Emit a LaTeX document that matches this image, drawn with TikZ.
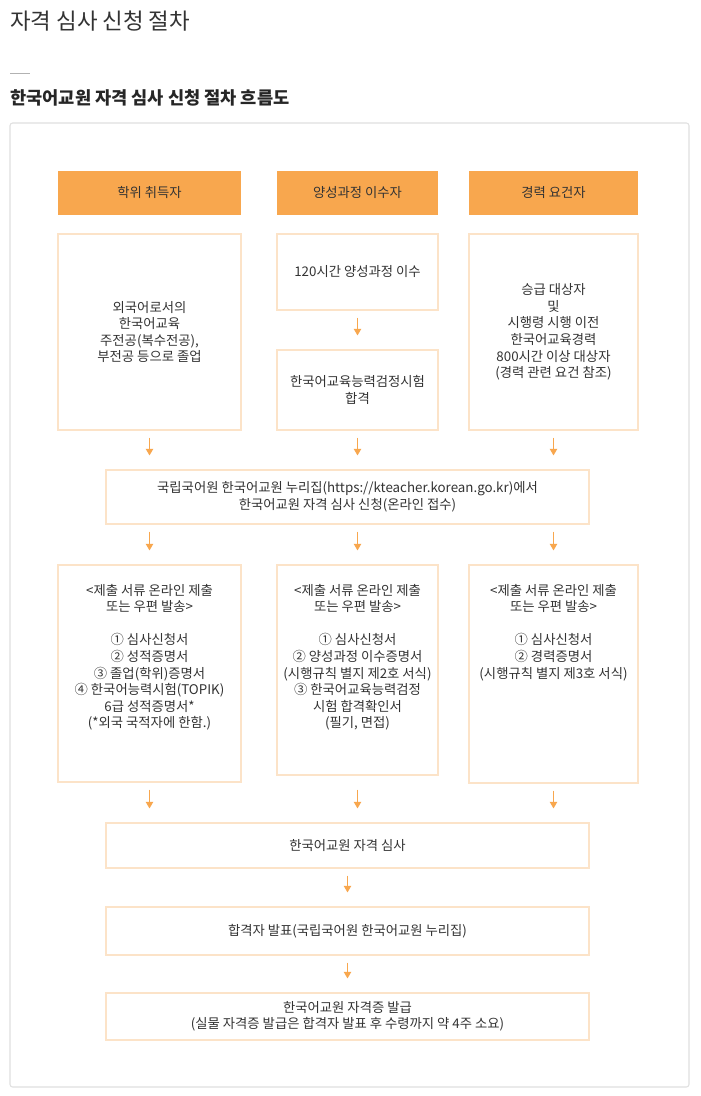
\documentclass[tikz,border=0pt]{standalone}
\usepackage{fontspec}
\setmainfont{Noto Sans CJK KR}
\usetikzlibrary{arrows.meta}
\definecolor{org}{HTML}{F8A74E}
\definecolor{lorg}{HTML}{FCE3C8}
\definecolor{txt}{HTML}{333333}
\tikzset{
  px/.style={x=0.75pt,y=-0.75pt},
  hdr/.style={fill=org,draw=none,minimum height=44*0.75pt,inner sep=0pt,font=\fontsize{10}{12}\selectfont,text=txt},
  bx/.style={draw=lorg,line width=0.8pt,inner sep=0pt,font=\fontsize{10}{12.4}\selectfont,text=txt,align=center},
  tx/.style={font=\fontsize{10}{12.4}\selectfont,text=txt,align=center,inner sep=0pt},
  arr/.style={draw=org,line width=1.1pt,-{Triangle[length=5pt,width=5.5pt]},shorten <=7*0.75pt,shorten >=14*0.75pt}
}
\begin{document}
\begin{tikzpicture}[px]
\useasboundingbox[fill=white] (0,0) rectangle (700,1096);
\node[anchor=west,inner sep=0pt,text=txt,font=\fontsize{16.8}{18}\selectfont] (t1) at (10,21) {자격 심사 신청 절차};
\draw[draw=gray!60,line width=0.6pt] (10,73) -- (30,73);
\node[anchor=west,inner sep=0pt,text=black!85,font=\fontsize{13.2}{15}\bfseries\selectfont] (t2) at (10,98) {한국어교원 자격 심사 신청 절차 흐름도};
\draw[draw=black!12,line width=0.8pt,rounded corners=2pt] (10,123) rectangle (689,1087);
% headers
\node[hdr,minimum width=183*0.75pt] (h1) at (149.5,193) {학위 취득자};
\node[hdr,minimum width=161*0.75pt] (h2) at (357.5,193) {양성과정 이수자};
\node[hdr,minimum width=169*0.75pt] (h3) at (553.5,193) {경력 요건자};
% row 1
\node[bx,minimum width=183*0.75pt,minimum height=196*0.75pt] (a1) at (149.5,332) {외국어로서의\\한국어교육\\주전공(복수전공),\\부전공 등으로 졸업};
\node[bx,minimum width=161*0.75pt,minimum height=76*0.75pt] (b1) at (357.5,272) {120시간 양성과정 이수};
\node[bx,minimum width=161*0.75pt,minimum height=80*0.75pt] (b2) at (357.5,390) {한국어교육능력검정시험\\합격};
\node[bx,minimum width=169*0.75pt,minimum height=196*0.75pt] (c1) at (553.5,332) {승급 대상자\\및\\시행령 시행 이전\\한국어교육경력\\800시간 이상 대상자\\(경력 관련 요건 참조)};
\draw[arr] (b1) -- (b2);
% wide apply box
\node[bx,minimum width=483*0.75pt,minimum height=54*0.75pt] (w) at (347.5,497) {국립국어원 한국어교원 누리집(https://kteacher.korean.go.kr)에서\\한국어교원 자격 심사 신청(온라인 접수)};
\draw[arr] (a1) -- (a1 |- w.north);
\draw[arr] (b2) -- (b2 |- w.north);
\draw[arr] (c1) -- (c1 |- w.north);
% row 2
\node[bx,minimum width=183*0.75pt,minimum height=217*0.75pt] (a2) at (149.5,673.5) {};
\node[bx,minimum width=161*0.75pt,minimum height=210*0.75pt] (b3) at (357.5,670) {};
\node[bx,minimum width=169*0.75pt,minimum height=218*0.75pt] (c2) at (553.5,674) {};
\node[tx,anchor=north] (a2t) at (149.5,584) {<제출 서류 온라인 제출\\또는 우편 발송>\\[12.4pt]① 심사신청서\\② 성적증명서\\③ 졸업(학위)증명서\\④ 한국어능력시험(TOPIK)\\6급 성적증명서*\\(*외국 국적자에 한함.)};
\node[tx,anchor=north] (b3t) at (357.5,584) {<제출 서류 온라인 제출\\또는 우편 발송>\\[12.4pt]① 심사신청서\\② 양성과정 이수증명서\\(시행규칙 별지 제2호 서식)\\③ 한국어교육능력검정\\시험 합격확인서\\(필기, 면접)};
\node[tx,anchor=north] (c2t) at (553.5,584) {<제출 서류 온라인 제출\\또는 우편 발송>\\[12.4pt]① 심사신청서\\② 경력증명서\\(시행규칙 별지 제3호 서식)};
\draw[arr] (w.south -| a2) -- (a2);
\draw[arr] (w.south -| b3) -- (b3);
\draw[arr] (w.south -| c2) -- (c2);
% bottom chain
\node[bx,minimum width=483*0.75pt,minimum height=45*0.75pt] (r) at (347.5,845.5) {한국어교원 자격 심사};
\node[bx,minimum width=483*0.75pt,minimum height=48*0.75pt] (p) at (347.5,931) {합격자 발표(국립국어원 한국어교원 누리집)};
\node[bx,minimum width=483*0.75pt,minimum height=47*0.75pt] (i) at (347.5,1016.5) {한국어교원 자격증 발급\\(실물 자격증 발급은 합격자 발표 후 수령까지 약 4주 소요)};
\draw[arr] (a2) -- (a2 |- r.north);
\draw[arr] (b3.south) ++(0,7) coordinate (bs) (bs) -- (bs |- r.north);
\draw[arr] (c2) -- (c2 |- r.north);
\draw[arr] (r) -- (p);
\draw[arr] (p) -- (i);
\end{tikzpicture}
\end{document}
